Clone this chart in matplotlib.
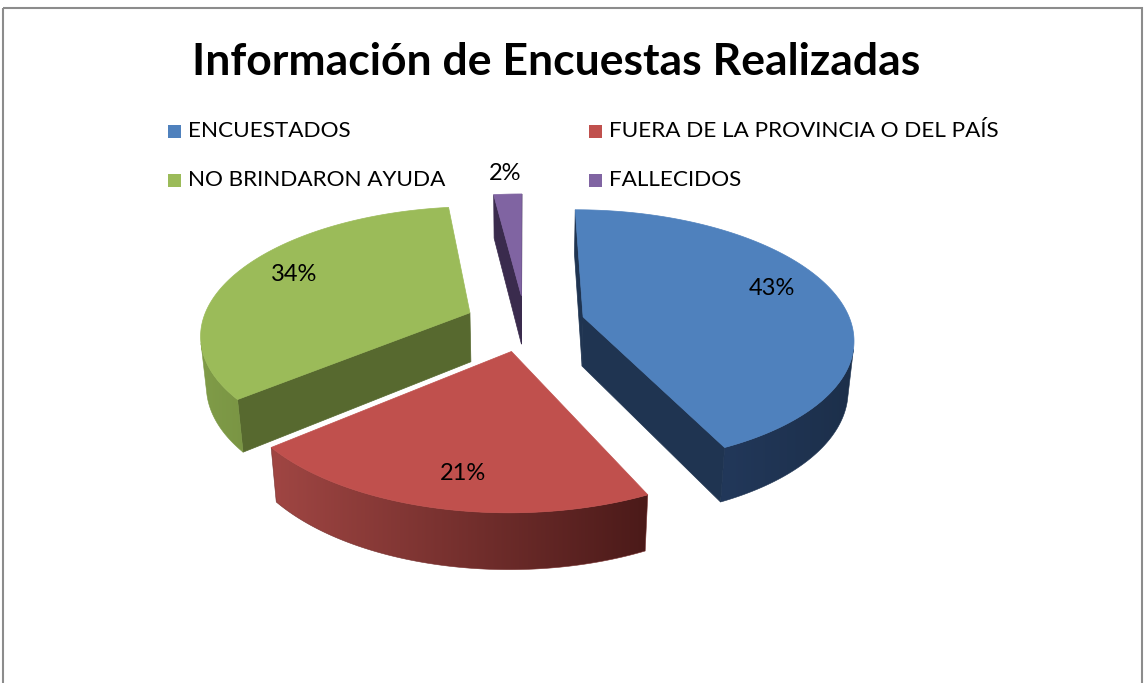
import numpy as np
import matplotlib.pyplot as plt
import matplotlib.colors as mcolors
from matplotlib.patches import Polygon, Rectangle

plt.rcParams['font.family'] = ['Lato', 'DejaVu Sans']

# data
title = "Información de Encuestas Realizadas"
categories = ["ENCUESTADOS", "FUERA DE LA PROVINCIA O DEL PAÍS",
              "NO BRINDARON AYUDA", "FALLECIDOS"]
values = [43, 21, 34, 2]
top_colors = ["#4F81BD", "#C0504D", "#9BBB59", "#8064A2"]
side_left = ["#22385A", "#A04643", "#809C48", "#3B2C4F"]
side_right = ["#1C2F4A", "#4B1A19", "#7A9544", "#3B2C4F"]
cut_colors = ["#1F3451", "#6B2826", "#57692F", "#3A2B4D"]
label_radius = [0.78, 0.8, 0.78, 1.24]
label_turn = [5, 2, -3, 0]  # degrees

# 3d view settings (pixel space)
cx, cy = 525, 323
R, E, H = 268, 60, 57
elev = np.radians(28.0)
D = 1500.0
se, ce = np.sin(elev), np.cos(elev)
cam = np.array([0.0, -D * ce, D * se])


def project(X, Y, Z):
    v = Y * se + Z * ce
    w = Y * ce - Z * se
    s = D / (D + w)
    return cx + X * s, cy - v * s


def visible(p, n):
    return np.dot(cam - np.asarray(p), np.asarray(n)) > 0


fig = plt.figure(figsize=(11.45, 6.83), dpi=100)
ax = fig.add_axes([0, 0, 1, 1])
ax.axis('off')

ax.add_patch(Rectangle((3, 8), 1139, 700, fill=False, edgecolor="#8C8C8C", lw=1.5))

total = float(sum(values))
fracs = np.array(values) / total
starts = 90 - 360 * np.concatenate([[0], np.cumsum(fracs)[:-1]])
ends = starts - 360 * fracs

slices = []
for i in range(len(values)):
    t1, t0 = np.radians(starts[i]), np.radians(ends[i])
    mid = (t0 + t1) / 2
    ox, oy = E * np.cos(mid), E * np.sin(mid)
    slices.append((i, t0, t1, mid, ox, oy))

# back to front
slices.sort(key=lambda s: -(s[5] + 0.5 * R * np.sin(s[3])))

z = 2
for i, t0, t1, mid, ox, oy in slices:
    th = np.linspace(t0, t1, max(8, int(np.degrees(t1 - t0) * 2)))
    rx = ox + R * np.cos(th)
    ry = oy + R * np.sin(th)

    # radial cut faces
    for t, n in ((t0, (np.sin(t0), -np.cos(t0), 0)), (t1, (-np.sin(t1), np.cos(t1), 0))):
        if visible((ox, oy, 0), n):
            px = [ox, ox + R * np.cos(t), ox + R * np.cos(t), ox]
            py = [oy, oy + R * np.sin(t), oy + R * np.sin(t), oy]
            pz = [0, 0, -H, -H]
            xs, ys = project(np.array(px), np.array(py), np.array(pz))
            ax.add_patch(Polygon(np.column_stack([xs, ys]), closed=True, zorder=z,
                                 facecolor=cut_colors[i], edgecolor=cut_colors[i], lw=0.5))
            z += 1

    # outer rim, front-facing part, filled with a left-to-right gradient
    vis = [visible((ox + R * np.cos(t), oy + R * np.sin(t), 0), (np.cos(t), np.sin(t), 0))
           for t in th]
    idx = np.where(vis)[0]
    if len(idx) > 1:
        a, b = idx[0], idx[-1] + 1
        xa, ya = project(rx[a:b], ry[a:b], np.zeros(b - a))
        xb, yb = project(rx[a:b], ry[a:b], np.full(b - a, -H))
        rim = np.column_stack([np.r_[xa, xb[::-1]], np.r_[ya, yb[::-1]]])
        cmap = mcolors.LinearSegmentedColormap.from_list(
            "rim%d" % i, [side_left[i], side_right[i]])
        grad = np.linspace(0, 1, 256).reshape(1, -1)
        im = ax.imshow(grad, cmap=cmap, aspect='auto', zorder=z,
                       extent=[rim[:, 0].min(), rim[:, 0].max(),
                               rim[:, 1].max(), rim[:, 1].min()])
        clip = Polygon(rim, closed=True, transform=ax.transData)
        im.set_clip_path(clip)
        mean_col = (np.array(mcolors.to_rgb(side_left[i])) + np.array(mcolors.to_rgb(side_right[i]))) / 2
        ax.add_patch(Polygon(rim, closed=True, fill=False, edgecolor=mean_col, lw=0.4, zorder=z))
        z += 1

    # top face
    xs, ys = project(np.r_[ox, rx], np.r_[oy, ry], np.zeros(len(rx) + 1))
    ax.add_patch(Polygon(np.column_stack([xs, ys]), closed=True, zorder=z,
                         facecolor=top_colors[i], edgecolor=top_colors[i], lw=0.5))
    z += 1

    # percentage label
    lr = label_radius[i] * R
    la = mid + np.radians(label_turn[i])
    lx, ly = project(ox + lr * np.cos(la), oy + lr * np.sin(la), 0)
    ax.text(lx, ly, f"{values[i] / total:.0%}", ha='center', va='center',
            fontsize=17, color='black', zorder=50)

ax.text(556, 62, title, ha='center', va='center', fontsize=32, fontweight='bold')

# legend
leg_pos = [(168, 131), (589, 131), (168, 180), (589, 180)]
for i, (lx, ly) in enumerate(leg_pos):
    ax.add_patch(Rectangle((lx, ly - 6.5), 13, 13, facecolor=top_colors[i], edgecolor='none'))
    ax.text(lx + 20, ly, categories[i], ha='left', va='center', fontsize=16.2)

ax.set_xlim(0, 1145)
ax.set_ylim(683, 0)
fig.savefig("out.png", dpi=100)
